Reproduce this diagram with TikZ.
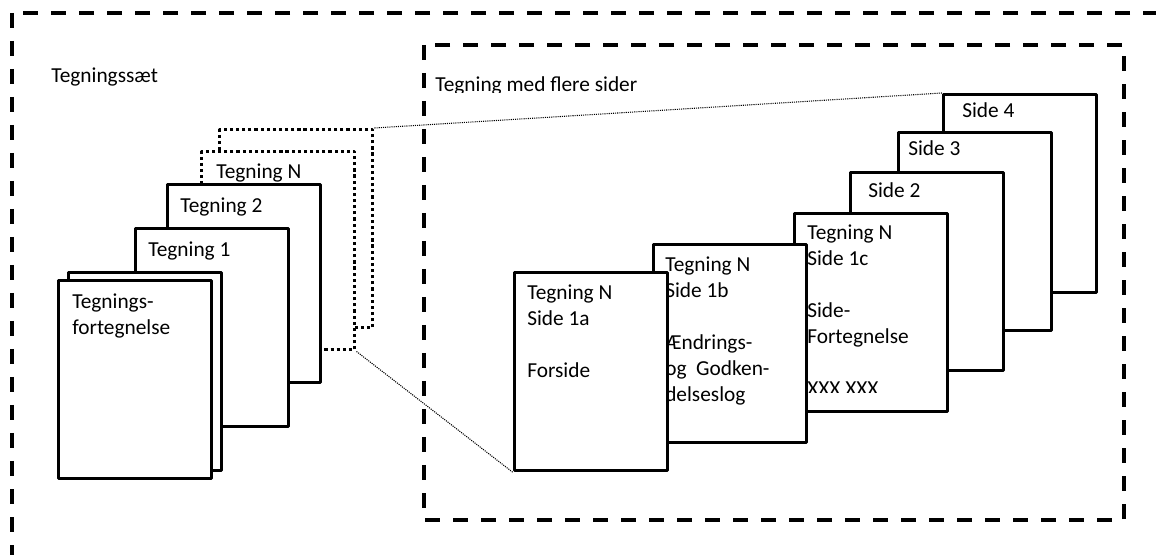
\documentclass[tikz,border=0pt]{standalone}
\usepackage{fontspec}
\setmainfont{Carlito}
\usetikzlibrary{positioning}

\begin{document}
\begin{tikzpicture}[x=0.75pt, y=-0.75pt,
          page/.style={rectangle, draw, line width=2.6pt, line join=round, fill=white,
            minimum width=114.75pt, minimum height=148.5pt, inner sep=0pt, anchor=north west},
          dotpage/.style={page, dash pattern=on 2.4pt off 2.2pt},
          frame/.style={draw, line width=2.6pt, dash pattern=on 11pt off 10pt},
          lbl/.style={anchor=base west, inner sep=0pt, align=left,
            font=\fontsize{16}{19.5}\selectfont},
          zoomline/.style={line width=0.8pt, dash pattern=on 0.8pt off 0.8pt}
        ]
          \useasboundingbox (0,0) rectangle (1156,555);
          \clip (0,0) rectangle (1156,555);

          % frames
          \draw[frame] (12,13) rectangle (1180,580);
          \draw[frame] (424,45) rectangle (1124,520);
          \node[lbl] (setlbl) at (51,83) {Tegningssæt};
          \begin{scope}
            \clip (430,60) rectangle (700,93);
            \node[lbl] (multilbl) at (435,92) {Tegning med flere sider};
          \end{scope}

          % drawing set (base = last line)
          \node[dotpage] (tNb) at (218,128) {};
          \node[dotpage] (tN) at (200,150) {};
          \node[lbl] (tNtxt) at (216,179) {Tegning N};
          \node[page] (t2) at (166,183) {};
          \node[lbl] (t2txt) at (180,213) {Tegning 2};
          \node[page] (t1) at (134,227) {};
          \node[lbl] (t1txt) at (148,257) {Tegning 1};
          \node[page] (tfb) at (67,271) {};
          \node[page] (tf) at (57,279) {};
          \node[lbl] (tftxt) at (72,335) {Tegnings-\\fortegnelse};

          % pages of drawing N
          \node[page] (s4) at (942,93) {};
          \node[lbl] (s4txt) at (962,118) {Side 4};
          \node[page] (s3) at (897,131) {};
          \node[lbl] (s3txt) at (908,156) {Side 3};
          \node[page] (s2) at (849,171) {};
          \node[lbl] (s2txt) at (868,198) {Side 2};
          \node[page] (s1c) at (793,212) {};
          \node[lbl] (s1ctxt) at (807,344) {Tegning N\\Side 1c\\[19.5pt]Side-\\Fortegnelse};
          \begin{scope}
            \clip (800,370) rectangle (940,393);
            \node[lbl] (s1cxxx) at (807,396) {XXX XXX};
          \end{scope}
          \node[page] (s1b) at (652,243) {};
          \node[lbl] (s1btxt) at (665,402) {Tegning N\\Side 1b\\[19.5pt]Ændrings-\\og\ \ Godken-\\delseslog};
          \node[page] (s1a) at (513,271) {};
          \node[lbl] (s1atxt) at (527,378) {Tegning N\\Side 1a\\[19.5pt]Forside};

          % zoom lines
          \draw[zoomline] (tNb.north east) -- (s4.north west);
          \draw[zoomline] (tN.south east) -- (s1a.south west);
\end{tikzpicture}
\end{document}
